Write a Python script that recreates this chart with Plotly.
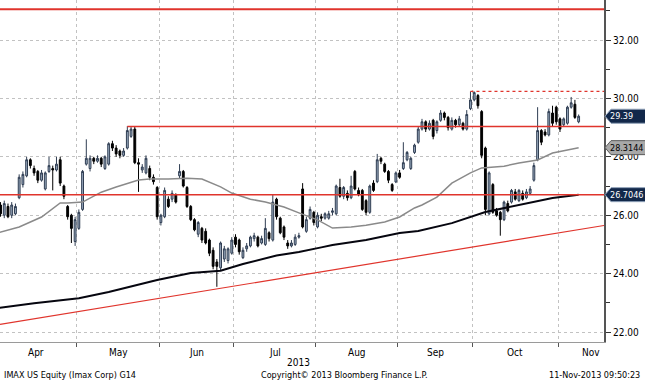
import pandas as pd
import plotly.graph_objects as go

# ---------------- data ----------------
holidays = ["2013-05-27", "2013-07-04", "2013-09-02"]
dates = [d for d in pd.bdate_range("2013-04-01", "2013-11-08") if d.strftime("%Y-%m-%d") not in holidays]
idx = list(range(len(dates)))

opens = [26.30, 26.35, 26.00, 26.30, 26.00, 26.05, 26.60, 27.05, 27.35, 27.90,
         27.60, 27.50, 27.20, 26.90, 27.50, 27.60, 27.55, 27.90, 27.00, 26.30,
         26.00, 25.10, 25.55, 26.20, 27.75, 27.60, 27.95, 27.85, 27.95, 27.60,
         27.75, 28.45, 28.30, 28.20, 28.05, 28.30, 28.70, 28.95, 27.80, 27.55,
         27.45, 27.60, 27.30, 26.95, 25.75, 25.95, 26.55, 26.55, 26.70, 27.35,
         27.50, 26.95, 26.30, 25.85, 25.35, 25.55, 25.45, 25.15, 24.80, 24.40,
         24.20, 24.50, 24.45, 24.70, 25.25, 25.15, 24.55, 24.85, 24.95, 25.20,
         25.25, 25.05, 25.00, 25.40, 25.15, 26.55, 25.90, 25.60, 25.05, 24.95,
         25.00, 25.25, 26.90, 25.45, 25.90, 26.10, 25.60, 25.95, 25.90, 25.90,
         26.10, 26.05, 26.95, 26.65, 26.75, 26.60, 27.50, 26.85, 26.85, 26.50,
         26.10, 27.10, 27.15, 27.95, 27.75, 27.50, 27.05, 27.14, 27.45, 27.60,
         27.90, 27.60, 28.15, 28.50, 28.95, 29.20, 28.95, 29.25, 28.90, 29.25,
         29.50, 29.35, 28.95, 29.25, 29.10, 29.15, 28.95, 29.65, 29.95, 30.10,
         29.55, 28.30, 26.05, 27.05, 26.15, 26.10, 25.85, 26.40, 26.45, 26.80,
         26.50, 26.75, 26.60, 26.75, 27.20, 27.90, 28.90, 28.85, 28.75, 29.50,
         29.70, 29.30, 29.10, 29.15, 29.70, 29.80, 29.20]
closes = [26.10, 26.05, 26.40, 25.95, 26.35, 26.30, 27.30, 27.40, 27.90, 27.70,
          27.45, 27.20, 27.45, 27.45, 27.70, 27.55, 27.75, 27.10, 26.65, 25.95,
          25.55, 25.85, 26.10, 27.50, 27.95, 27.95, 27.85, 27.95, 27.75, 28.00,
          28.45, 28.30, 28.10, 28.05, 28.20, 28.90, 28.95, 27.80, 27.75, 27.65,
          27.95, 27.30, 27.15, 25.95, 26.00, 26.85, 26.30, 26.75, 26.45, 27.50,
          27.00, 26.30, 25.85, 25.50, 25.75, 25.15, 25.05, 24.70, 24.25, 24.25,
          25.05, 24.85, 24.85, 25.15, 25.00, 24.75, 24.80, 24.95, 25.25, 25.30,
          24.95, 25.20, 25.55, 25.20, 26.45, 25.95, 25.40, 25.25, 24.95, 25.05,
          25.25, 25.30, 25.60, 25.85, 26.20, 25.75, 26.00, 25.90, 26.05, 26.05,
          26.15, 27.00, 26.65, 26.95, 26.60, 27.00, 26.90, 26.70, 26.20, 26.10,
          27.00, 26.85, 27.90, 27.85, 27.50, 27.20, 26.85, 27.45, 27.30, 27.80,
          28.15, 27.95, 28.40, 28.95, 29.20, 28.95, 29.15, 28.70, 29.20, 29.50,
          29.35, 29.00, 29.25, 29.10, 29.30, 28.95, 29.45, 29.95, 30.20, 29.75,
          28.05, 26.20, 27.45, 26.10, 26.00, 25.85, 26.45, 26.15, 26.85, 26.55,
          26.85, 26.55, 26.80, 26.90, 27.70, 28.90, 28.50, 28.75, 29.55, 29.15,
          29.20, 28.95, 29.30, 29.70, 29.85, 29.35, 29.39]
highs = [26.45, 26.45, 26.50, 26.40, 26.45, 26.40, 27.40, 27.50, 28.00, 27.95,
         27.70, 27.55, 27.55, 27.50, 28.00, 27.70, 28.00, 28.00, 27.05, 26.35,
         26.05, 25.95, 26.20, 27.55, 28.60, 28.05, 28.00, 28.05, 28.00, 28.05,
         28.50, 28.55, 28.40, 28.25, 28.30, 29.05, 29.05, 29.05, 27.95, 27.75,
         28.05, 27.70, 27.40, 27.00, 26.05, 26.95, 26.65, 26.85, 26.75, 27.75,
         27.55, 27.00, 26.35, 25.90, 25.80, 25.60, 25.55, 25.20, 24.90, 24.50,
         25.10, 24.95, 24.90, 25.25, 25.35, 25.20, 24.90, 25.05, 25.30, 25.40,
         25.30, 25.30, 25.90, 25.45, 26.70, 26.60, 25.95, 25.65, 25.15, 25.15,
         25.35, 25.40, 27.10, 25.95, 26.30, 26.15, 26.10, 26.05, 26.10, 26.15,
         26.25, 27.05, 27.25, 27.00, 26.85, 27.35, 27.55, 26.95, 26.90, 26.55,
         27.05, 27.20, 28.10, 28.00, 27.80, 27.55, 27.10, 27.50, 27.55, 28.50,
         28.20, 28.00, 28.45, 29.05, 29.30, 29.25, 29.25, 29.30, 29.25, 29.60,
         29.55, 29.40, 29.35, 29.30, 29.40, 29.20, 29.60, 30.24, 30.24, 30.15,
         29.60, 28.35, 27.50, 27.10, 26.25, 26.15, 26.50, 26.50, 26.90, 26.90,
         26.90, 26.85, 26.90, 27.00, 27.80, 29.70, 28.95, 28.95, 29.65, 29.75,
         29.75, 29.35, 29.35, 29.75, 30.05, 29.95, 29.45]
lows = [26.00, 25.95, 25.90, 25.90, 25.90, 26.00, 26.55, 26.95, 27.30, 27.60,
        27.35, 27.10, 27.15, 26.85, 27.45, 26.85, 27.50, 27.00, 26.55, 25.85,
        25.05, 24.95, 25.50, 26.15, 27.70, 27.50, 27.75, 27.80, 27.65, 27.55,
        27.70, 28.20, 28.00, 27.95, 28.00, 28.25, 28.65, 27.75, 26.80, 27.45,
        27.40, 27.20, 27.05, 25.85, 25.65, 25.90, 26.25, 26.45, 26.40, 27.25,
        26.95, 26.25, 25.80, 25.45, 25.25, 25.05, 25.00, 24.60, 24.15, 23.55,
        24.10, 24.40, 24.35, 24.65, 24.90, 24.65, 24.50, 24.75, 24.90, 25.10,
        24.90, 25.00, 24.95, 25.10, 25.10, 25.85, 25.35, 25.15, 24.85, 24.90,
        24.95, 25.20, 25.55, 25.40, 25.85, 25.65, 25.55, 25.80, 25.85, 25.85,
        26.00, 26.00, 26.60, 26.55, 26.50, 26.55, 26.85, 26.65, 26.15, 26.00,
        26.05, 26.80, 27.10, 27.75, 27.45, 27.10, 26.80, 27.10, 27.25, 27.55,
        27.85, 27.55, 28.10, 28.45, 28.90, 28.85, 28.90, 28.60, 28.80, 29.20,
        29.25, 28.90, 28.90, 29.00, 29.05, 28.90, 28.90, 29.60, 29.90, 29.65,
        27.95, 26.00, 26.00, 26.05, 25.95, 25.30, 25.80, 26.10, 26.40, 26.50,
        26.45, 26.50, 26.55, 26.70, 27.15, 27.85, 28.40, 28.70, 28.70, 29.05,
        29.10, 28.85, 29.05, 29.10, 29.65, 29.30, 29.15]

# moving averages (trading-day index, price)
ma50_x = [0, 6, 12, 17, 19, 23, 28, 32, 38, 41, 46, 51, 55, 60, 63, 68, 72, 77, 81,
          86, 90, 95, 99, 104, 108, 112, 114, 118, 122, 127, 130, 136, 140, 145, 149, 153, 156]
ma50_y = [25.39, 25.60, 25.94, 26.42, 26.42, 26.45, 26.79, 26.97, 27.21, 27.24, 27.24,
          27.27, 27.24, 26.97, 26.76, 26.55, 26.45, 26.28, 26.08, 25.84, 25.56, 25.60,
          25.66, 25.77, 25.94, 26.25, 26.35, 26.62, 27.10, 27.45, 27.62, 27.68, 27.79,
          27.89, 28.13, 28.23, 28.3144]
ma200_x = [0, 10, 22, 30, 43, 52, 60, 66, 75, 81, 87, 90, 99, 108, 113, 122, 131, 140, 149, 156]
ma200_y = [22.82, 22.99, 23.16, 23.37, 23.78, 24.02, 24.10, 24.33, 24.62, 24.74, 24.90,
           24.98, 25.15, 25.39, 25.46, 25.73, 26.11, 26.35, 26.59, 26.7046]

X_MIN, X_MAX = 0.86, 162.8
Y_MIN, Y_MAX = 21.66, 33.37

trend_x = [X_MIN, X_MAX]
trend_y = [22.26, 25.65]

level_top = 33.05
level_may_high = 29.04
level_may_start = 35
level_sep_high = 30.24
level_sep_start = 127
last_price = "29.39"
ma50_last = "28.3144"
ma200_last = "26.7046"

y_ticks = [22, 24, 26, 28, 30, 32]
y_minor = [23, 25, 27, 29, 31, 33]
month_names = ["Apr", "May", "Jun", "Jul", "Aug", "Sep", "Oct", "Nov"]
month_label_pos = [10.5, 32.5, 53.5, 74.5, 96.5, 117.5, 139.0, 159.3]

# month boundaries from the trading calendar
month_bounds = [i - 0.5 for i in range(1, len(dates)) if dates[i].month != dates[i - 1].month]

# ---------------- figure ----------------
FONT = "Liberation Sans Narrow, DejaVu Sans Condensed, Arial Narrow, sans-serif"
RED = "#e0342c"

fig = go.Figure()
fig.add_trace(go.Candlestick(
    x=idx, open=opens, high=highs, low=lows, close=closes,
    increasing=dict(line=dict(color="#2f3d52", width=1), fillcolor="#9fb0c4"),
    decreasing=dict(line=dict(color="#000000", width=1), fillcolor="#000000"),
    whiskerwidth=0, showlegend=False, hoverinfo="skip"))
fig.add_trace(go.Scatter(x=trend_x, y=trend_y, mode="lines",
                         line=dict(color=RED, width=1.2), showlegend=False, hoverinfo="skip"))
fig.add_trace(go.Scatter(x=ma200_x, y=ma200_y, mode="lines",
                         line=dict(color="#06060f", width=2), showlegend=False, hoverinfo="skip"))
fig.add_trace(go.Scatter(x=ma50_x, y=ma50_y, mode="lines",
                         line=dict(color="#8a8a8a", width=1.5), showlegend=False, hoverinfo="skip"))

shapes = [
    dict(type="line", xref="x", yref="y", x0=X_MIN, x1=X_MAX, y0=level_top, y1=level_top,
         line=dict(color=RED, width=2)),
    dict(type="line", xref="x", yref="y", x0=level_may_start, x1=X_MAX, y0=level_may_high, y1=level_may_high,
         line=dict(color=RED, width=1.5)),
    dict(type="line", xref="x", yref="y", x0=level_sep_start, x1=X_MAX, y0=level_sep_high, y1=level_sep_high,
         line=dict(color=RED, width=1.2, dash="dot")),
    dict(type="line", xref="x", yref="y", x0=X_MIN, x1=X_MAX, y0=float(ma200_last), y1=float(ma200_last),
         line=dict(color=RED, width=1.5)),
]

annotations = []


def tag(label, fill, border, txtcolor):
    value = float(label)
    frac = (value - Y_MIN) / (Y_MAX - Y_MIN)
    shapes.append(dict(type="path", xref="paper", yref="paper", xsizemode="pixel", ysizemode="pixel",
                       xanchor=1, yanchor=frac, path="M 1 0 L 7 7 L 44 7 L 44 -7 L 7 -7 Z",
                       fillcolor=fill, line=dict(color=border, width=1), layer="above"))
    annotations.append(dict(xref="paper", x=1, xanchor="left", xshift=4, yref="y", y=value,
                            yanchor="middle", text=label, showarrow=False,
                            font=dict(family=FONT, size=9, color=txtcolor)))


tag(last_price, "#12284a", "#8fa0b8", "white")
tag(ma50_last, "#a8a8a8", "#5a5a5a", "black")
tag(ma200_last, "#12284a", "#8fa0b8", "white")

for name, pos in zip(month_names, month_label_pos):
    annotations.append(dict(xref="x", x=pos, yref="paper", y=0, yshift=-10, yanchor="middle",
                            text=name, showarrow=False, font=dict(family=FONT, size=10, color="black")))
annotations.append(dict(xref="x", x=81, yref="paper", y=0, yshift=-20, yanchor="middle",
                        text="2013", showarrow=False, font=dict(family=FONT, size=10, color="black")))
annotations.append(dict(xref="paper", x=0, xanchor="left", xshift=2, yref="paper", y=0, yshift=-33,
                        yanchor="middle", text="IMAX US Equity (Imax Corp) G14", showarrow=False,
                        font=dict(family=FONT, size=9, color="black")))
annotations.append(dict(xref="paper", x=344 / 604, xanchor="center", yref="paper", y=0, yshift=-33,
                        yanchor="middle", text="Copyright\u00a9 2013 Bloomberg Finance L.P.", showarrow=False,
                        font=dict(family=FONT, size=9, color="black")))
annotations.append(dict(xref="paper", x=642 / 604, xanchor="right", yref="paper", y=0, yshift=-33,
                        yanchor="middle", text="11-Nov-2013 09:50:23", showarrow=False,
                        font=dict(family=FONT, size=9, color="black")))

fig.update_layout(
    width=645, height=380,
    margin=dict(l=0, r=41, t=0, b=38, pad=0),
    paper_bgcolor="white", plot_bgcolor="white",
    shapes=shapes, annotations=annotations,
    xaxis=dict(range=[X_MIN, X_MAX], tickvals=month_bounds, showticklabels=False,
               ticks="outside", ticklen=4, tickcolor="#555555",
               showgrid=True, gridcolor="#c2c2c2", gridwidth=1, griddash="dot",
               showline=True, linecolor="#9a9a9a", linewidth=1, zeroline=False,
               rangeslider=dict(visible=False), fixedrange=True),
    yaxis=dict(side="right", range=[Y_MIN, Y_MAX], tickvals=y_ticks,
               ticktext=[f"{v:.2f}" for v in y_ticks],
               ticks="outside", ticklen=5, tickcolor="#333333",
               tickfont=dict(family=FONT, size=10, color="black"),
               showgrid=True, gridcolor="#c2c2c2", gridwidth=1, griddash="dot",
               showline=True, linecolor="#555555", linewidth=2, zeroline=False,
               minor=dict(tickvals=y_minor, ticks="outside", ticklen=4, tickcolor="#333333", showgrid=False),
               fixedrange=True),
)

fig.write_html("out.html", config={"displayModeBar": False},
               post_script="document.body.style.margin='0';document.body.style.overflow='hidden';")
